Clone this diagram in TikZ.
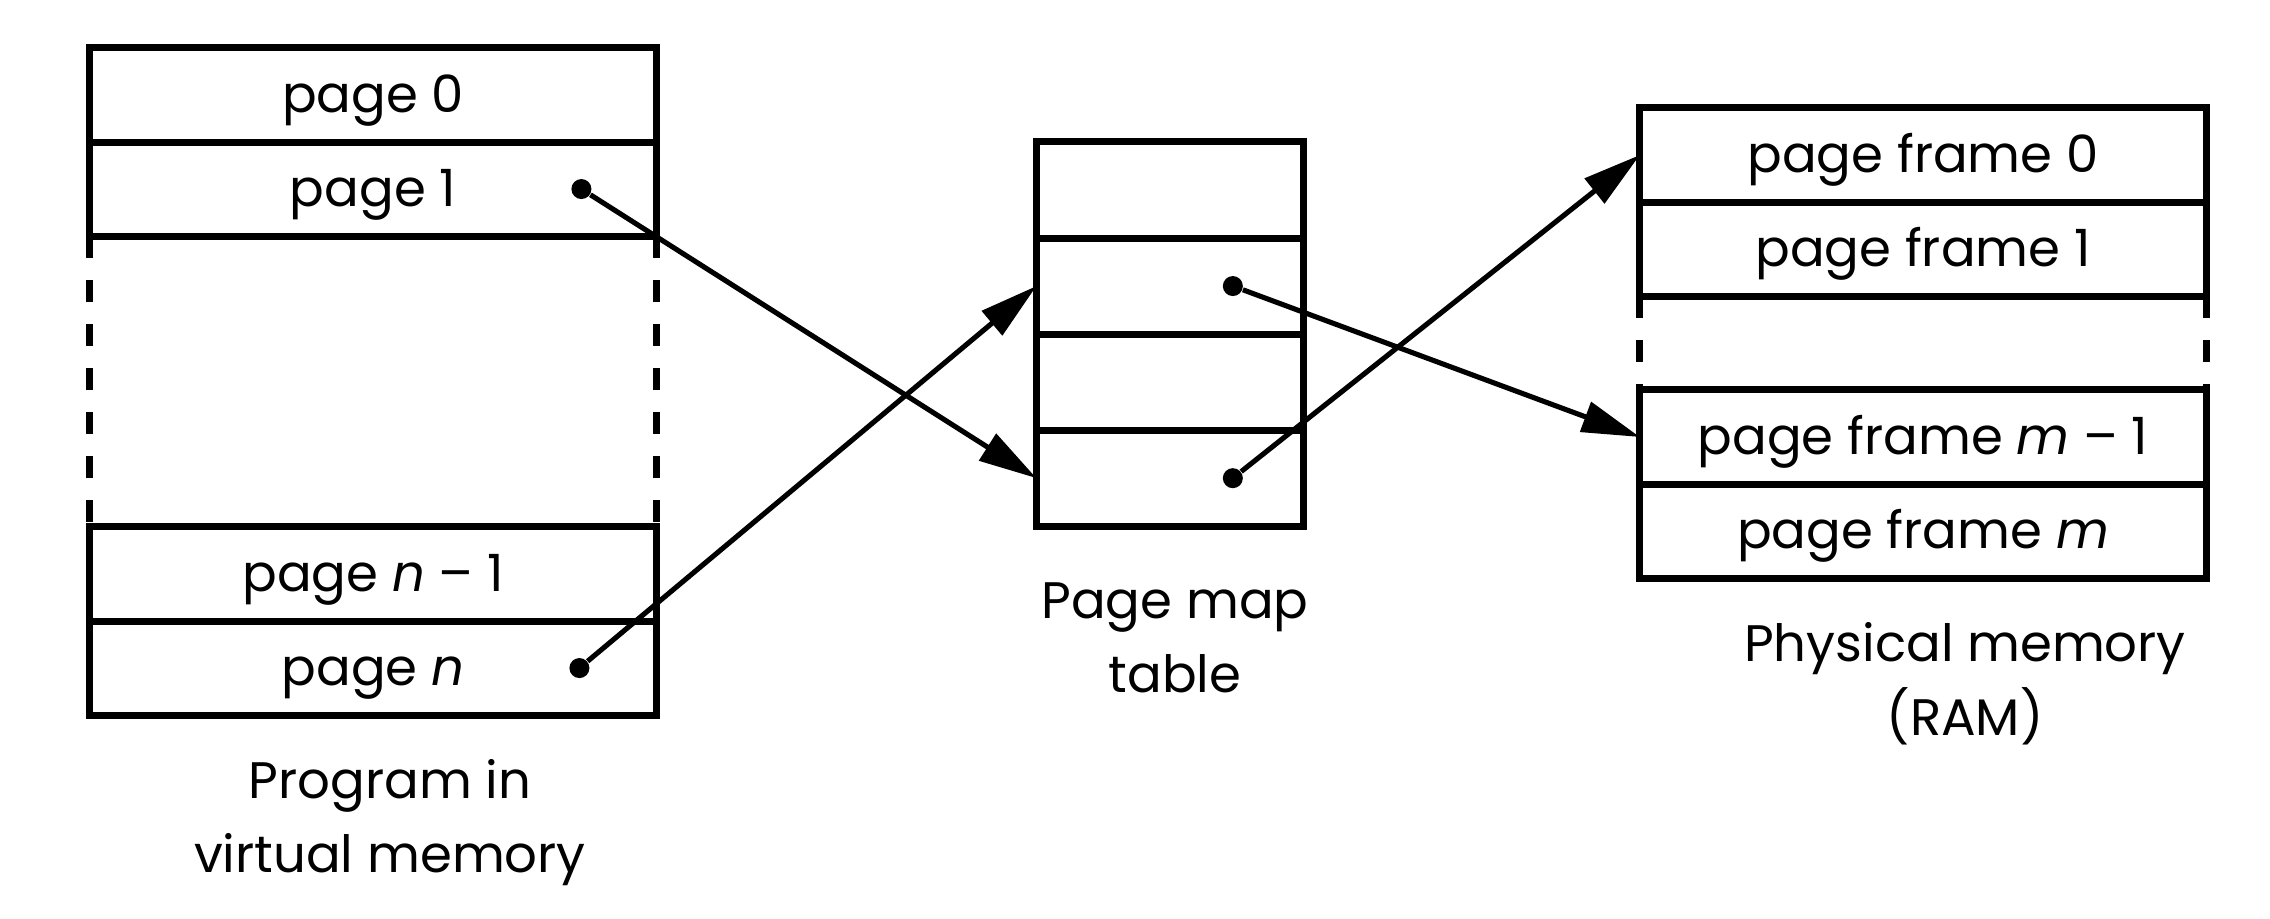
\documentclass[tikz,border=0pt]{standalone}
\usepackage{fontspec}
\setmainfont{Poppins}
\usetikzlibrary{positioning,arrows.meta}

\begin{document}
\begin{tikzpicture}[
    x=0.01cm, y=-0.01cm,
    node distance=0pt,
    block/.style={draw, line width=2pt, outer sep=0pt, minimum width=5.66cm, minimum height=0.94cm, text height=13.4pt, text depth=3.4pt, font=\fontsize{14.6}{18}\selectfont},
    slot/.style={draw, line width=2pt, outer sep=0pt, minimum width=2.67cm, minimum height=0.96cm},
    dot/.style={circle, fill, inner sep=0pt, minimum size=0.2cm},
    gap/.style={line width=2pt, dash pattern=on 0.22cm off 0.22cm},
    arrow/.style={-{Triangle[length=0.58cm, width=0.31cm]}, line width=1.45pt},
    caption/.style={align=center, font=\fontsize{14.6}{21}\selectfont}
]
\useasboundingbox (0,0) rectangle (2270,918);

% Program in virtual memory
\node[block] (pg0) at (373,95) {page 0};
\node[block, below=of pg0] (pg1) {page 1};
\node[block] (pgn1) at (373,574) {page \textit{n} -- 1};
\node[block, below=of pgn1] (pgn) {page \textit{n}};
\draw[gap] (pg1.south west) -- (pgn1.north west);
\draw[gap] (pg1.south east) -- (pgn1.north east);
\node[caption] (prog) at (390,823) {Program in\\virtual memory};

% Page map table
\node[slot] (pmt1) at (1170,190) {};
\node[slot, below=of pmt1] (pmt2) {};
\node[slot, below=of pmt2] (pmt3) {};
\node[slot, below=of pmt3] (pmt4) {};
\node[caption] (pmt) at (1175,638) {Page map\\table};

% Physical memory
\node[block] (pf0) at (1923,155) {page frame 0};
\node[block, below=of pf0] (pf1) {page frame 1};
\node[block] (pfm1) at (1923,437) {page frame \textit{m} -- 1};
\node[block, below=of pfm1] (pfm) {page frame \textit{m}};
\draw[gap] (pf1.south west) -- (pfm1.north west);
\draw[gap] (pf1.south east) -- (pfm1.north east);
\node[caption] (ram) at (1965,684) {Physical memory\\(RAM)};

% Dots
\node[dot, left=0.64cm of pg1.east] (d1) {};
\node[dot, left=0.66cm of pgn.east] (dn) {};
\node[dot, left=0.6cm of pmt2.east] (t2) {};
\node[dot, left=0.6cm of pmt4.east] (t4) {};

% Arrows
\draw[arrow] (d1) -- (pmt4.west);
\draw[arrow] (dn) -- (pmt2.west);
\draw[arrow] (t2) -- (pfm1.west);
\draw[arrow] (t4) -- (pf0.west);

\end{tikzpicture}
\end{document}
